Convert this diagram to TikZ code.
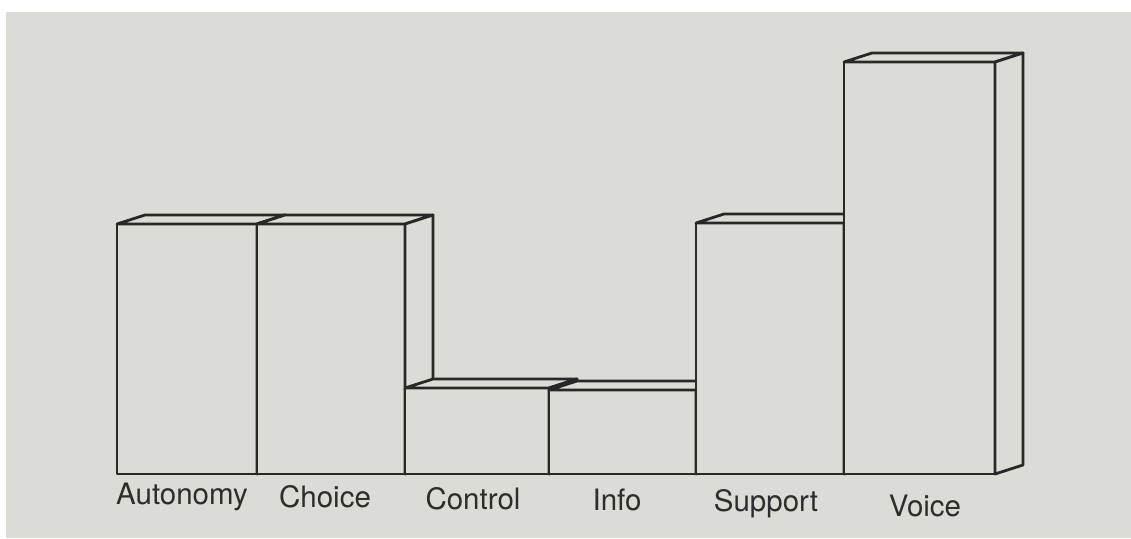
\documentclass[tikz,border=0pt]{standalone}
\usepackage{fontspec}
\setmainfont{TeX Gyre Heros}
\usepackage{tikz}
\usetikzlibrary{positioning}
\usepackage{xcolor}
\definecolor{paper}{RGB}{219,220,213}
\definecolor{ink}{RGB}{40,40,40}
\definecolor{labelgrey}{RGB}{45,45,45}
\tikzset{
    bar/.style={
        draw=ink,
        fill=paper,
        line width=2.8pt,
        line join=round
    },
    barlabel/.style={
        text=labelgrey,
        inner sep=0pt,
        font=\fontsize{29.5}{33}\selectfont
    }
}

\begin{document}
\begin{tikzpicture}[x=1pt, y=-1pt]
    \useasboundingbox (0,0) rectangle (1131,538);
    \fill[white] (0,0) rectangle (1131,538);
    \fill[paper] (6,12) rectangle (1131,538);

    % Autonomy
    \draw[bar] (117,224) rectangle (257,474);
    \draw[bar] (117,224) -- (145,215) -- (285,215) -- (257,224) -- cycle;
    \draw[bar] (257,224) -- (285,215) -- (285,465) -- (257,474) -- cycle;
    % Choice
    \draw[bar] (257,224) rectangle (405,474);
    \draw[bar] (257,224) -- (285,215) -- (433,215) -- (405,224) -- cycle;
    \draw[bar] (405,224) -- (433,215) -- (433,465) -- (405,474) -- cycle;
    % Control
    \draw[bar] (405,388) rectangle (549,474);
    \draw[bar] (405,388) -- (433,379) -- (577,379) -- (549,388) -- cycle;
    \draw[bar] (549,388) -- (577,379) -- (577,465) -- (549,474) -- cycle;
    % Info
    \draw[bar] (549,390) rectangle (696,474);
    \draw[bar] (549,390) -- (577,381) -- (724,381) -- (696,390) -- cycle;
    \draw[bar] (696,390) -- (724,381) -- (724,465) -- (696,474) -- cycle;
    % Support
    \draw[bar] (696,223) rectangle (844,474);
    \draw[bar] (696,223) -- (724,214) -- (872,214) -- (844,223) -- cycle;
    \draw[bar] (844,223) -- (872,214) -- (872,465) -- (844,474) -- cycle;
    % Voice
    \draw[bar] (844,62) rectangle (995,474);
    \draw[bar] (844,62) -- (872,53) -- (1023,53) -- (995,62) -- cycle;
    \draw[bar] (995,62) -- (1023,53) -- (1023,465) -- (995,474) -- cycle;

    % Labels
    \node[barlabel] (autonomy) at (182,497) {Autonomy};
    \node[barlabel] (choice) at (325,497) {Choice};
    \node[barlabel] (control) at (473,499) {Control};
    \node[barlabel] (info) at (617,500) {Info};
    \node[barlabel] (support) at (766,504) {Support};
    \node[barlabel] (voice) at (925,506) {Voice};
\end{tikzpicture}
\end{document}
